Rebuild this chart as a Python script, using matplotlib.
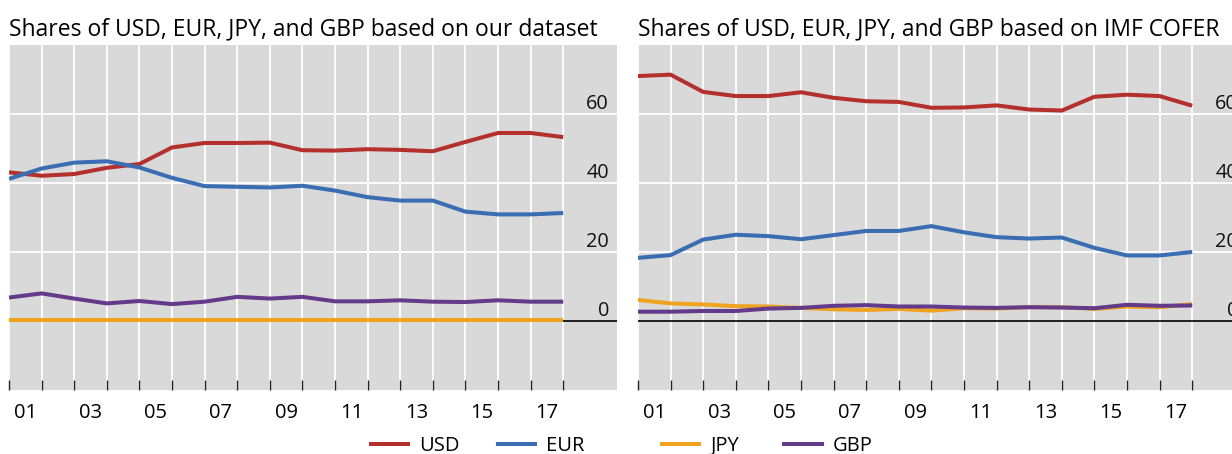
import matplotlib
matplotlib.use("Agg")
import matplotlib.pyplot as plt
from matplotlib.lines import Line2D
import matplotlib.transforms as mtransforms

plt.rcParams['font.family'] = ['Open Sans', 'DejaVu Sans']

years = list(range(2000, 2018))

# Left panel: our dataset
usd_ours = [43.1, 42.1, 42.6, 44.4, 45.5, 50.3, 51.6, 51.6, 51.7, 49.5, 49.4, 49.8, 49.6, 49.2, 51.9, 54.5, 54.5, 53.3]
eur_ours = [41.2, 44.2, 45.9, 46.3, 44.5, 41.5, 39.1, 38.9, 38.7, 39.2, 37.8, 35.9, 34.9, 34.9, 31.7, 30.9, 30.9, 31.3]
jpy_ours = [0.2] * 18
gbp_ours = [6.8, 8.0, 6.5, 5.1, 5.8, 4.9, 5.6, 7.0, 6.5, 7.0, 5.7, 5.7, 6.0, 5.6, 5.5, 6.0, 5.6, 5.6]

# Right panel: IMF COFER
usd_cofer = [71.0, 71.4, 66.4, 65.2, 65.2, 66.3, 64.7, 63.7, 63.5, 61.8, 61.9, 62.5, 61.3, 61.0, 65.0, 65.6, 65.2, 62.4]
eur_cofer = [18.3, 19.1, 23.6, 25.0, 24.6, 23.7, 24.9, 26.1, 26.1, 27.5, 25.7, 24.3, 23.9, 24.2, 21.2, 19.0, 19.0, 20.0]
jpy_cofer = [6.1, 5.1, 4.8, 4.3, 4.2, 3.8, 3.4, 3.2, 3.5, 3.0, 3.7, 3.6, 4.0, 4.0, 3.5, 4.2, 4.0, 4.9]
gbp_cofer = [2.7, 2.7, 2.9, 2.9, 3.6, 3.8, 4.4, 4.6, 4.2, 4.2, 3.9, 3.8, 4.0, 3.9, 3.7, 4.7, 4.4, 4.5]

titles = ["Shares of USD, EUR, JPY, and GBP based on our dataset",
          "Shares of USD, EUR, JPY, and GBP based on IMF COFER"]
series_names = ["USD", "EUR", "JPY", "GBP"]
colors = ["#b3302c", "#3a6db2", "#f0a31f", "#643a8a"]
yticks = [0, 20, 40, 60]
xlabel_years = [2001, 2003, 2005, 2007, 2009, 2011, 2013, 2015, 2017]
xlabels = ["01", "03", "05", "07", "09", "11", "13", "15", "17"]

W, H = 1232, 454
fig = plt.figure(figsize=(W / 100, H / 100), dpi=100)

panels = [
    (9, [usd_ours, eur_ours, jpy_ours, gbp_ours]),
    (638, [usd_cofer, eur_cofer, jpy_cofer, gbp_cofer]),
]
ax_w = 608
ax_top, ax_bot = 45, 390

for (x0, data), title in zip(panels, titles):
    ax = fig.add_axes([x0 / W, (H - ax_bot) / H, ax_w / W, (ax_bot - ax_top) / H])
    ax.set_facecolor("#d9d9d9")
    ax.set_xlim(2000, 2018.65)
    ax.set_ylim(-20, 80)
    for s in ax.spines.values():
        s.set_visible(False)
    # gridlines
    for yv in yticks[1:]:
        ax.axhline(yv, color="white", lw=1.3, zorder=1)
    for xv in years:
        ax.axvline(xv, color="white", lw=1.3, zorder=1)
    ax.axhline(0, color="black", lw=1.2, zorder=2)
    for vals, c, n in zip(data, colors, series_names):
        ax.plot(years, vals, color=c, lw=2.9, zorder=3, label=n, solid_capstyle="butt")
    # x ticks
    ax.set_xticks(years)
    ax.set_xticklabels([])
    ax.tick_params(axis="x", direction="in", length=7.5, width=1.0, color="#222222")
    ax.set_xticks([y - 0.5 for y in xlabel_years], minor=True)
    ax.set_xticklabels(xlabels, minor=True)
    ax.tick_params(axis="x", which="minor", length=0, pad=9, labelsize=14.5)
    ax.set_yticks([])
    # y tick labels inside, above gridlines, right side
    trans = mtransforms.blended_transform_factory(ax.transAxes, ax.transData)
    for yv in yticks:
        ax.text(0.987, yv + 1.5, str(yv), transform=trans, ha="right", va="baseline",
                fontsize=14.3, color="#111111", zorder=4)
    fig.text(x0 / W, 1 - 35 / H, title, ha="left", va="baseline", fontsize=16.5)

handles = [Line2D([], [], color=c, lw=2.9) for c in colors]
leg_kw = dict(ncol=2, frameon=False, fontsize=14.5, handlelength=1.85, handletextpad=0.55,
              borderpad=0, borderaxespad=0)
fig.legend(handles[:2], series_names[:2], loc="center left", columnspacing=1.9,
           bbox_to_anchor=(371 / W, 1 - 446 / H), **leg_kw)
fig.legend(handles[2:], series_names[2:], loc="center left", columnspacing=2.25,
           bbox_to_anchor=(662 / W, 1 - 446 / H), **leg_kw)

fig.savefig("out.png", dpi=100)
